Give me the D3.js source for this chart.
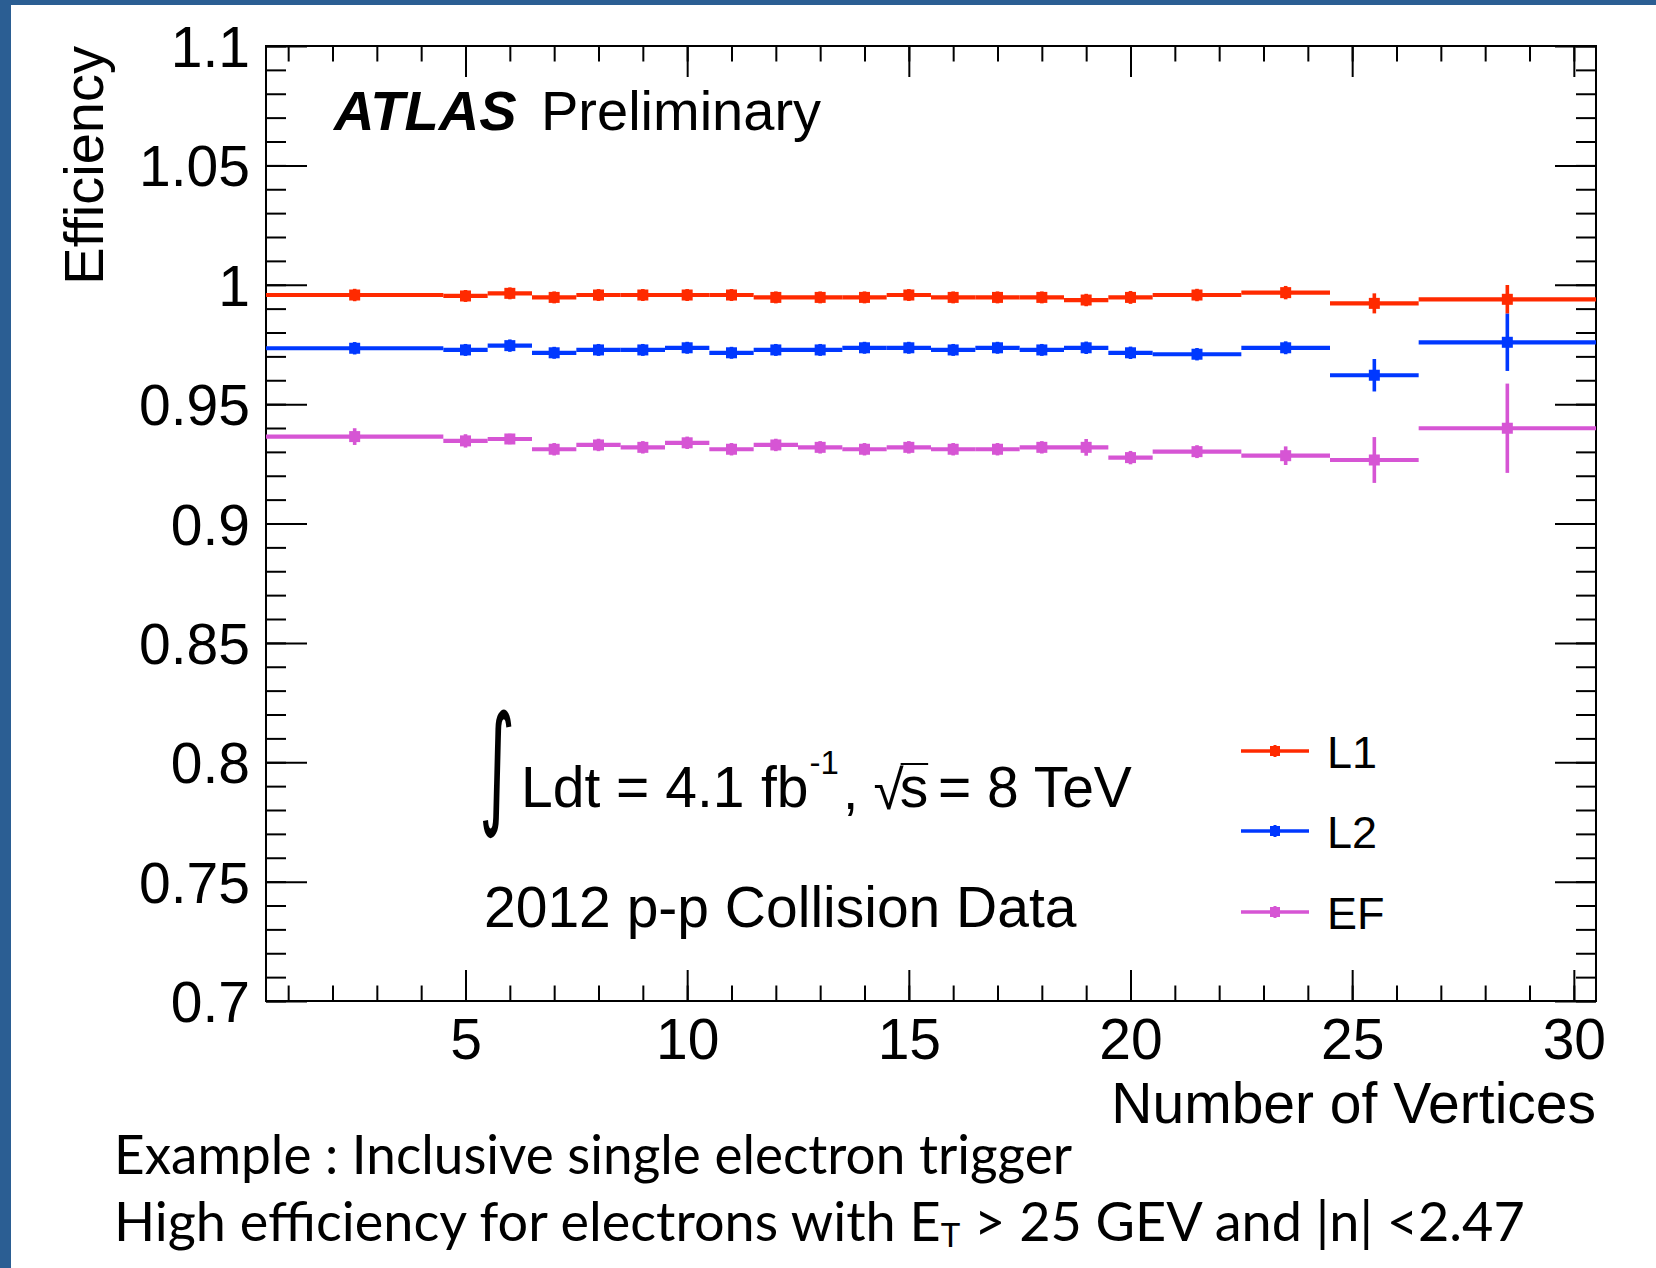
<!DOCTYPE html>
<html>
<head>
<meta charset="utf-8">
<script src="https://cdn.jsdelivr.net/npm/d3@7"></script>
<style>
  html, body { margin: 0; padding: 0; background: #fff; }
  svg { display: block; }
</style>
</head>
<body>
<svg id="chart" width="1656" height="1268"></svg>
<script>
// ---- data: trigger efficiency vs. number of reconstructed vertices ----
// bin edges (the last bins are merged because of low statistics)
const binEdges = [0.5, 4.5, 5.5, 6.5, 7.5, 8.5, 9.5, 10.5, 11.5, 12.5, 13.5, 14.5,
                  15.5, 16.5, 17.5, 18.5, 19.5, 20.5, 22.5, 24.5, 26.5, 30.5];

const l1Eff = [0.9957, 0.9953, 0.9964, 0.9947, 0.9957, 0.9957, 0.9957, 0.9957, 0.9947, 0.9947, 0.9947,
               0.9957, 0.9947, 0.9947, 0.9947, 0.9936, 0.9947, 0.9957, 0.9967, 0.9922, 0.9939];
const l1Err = [0.0026, 0.0025, 0.0025, 0.0025, 0.0025, 0.0025, 0.0025, 0.0025, 0.0025, 0.0025, 0.0025,
               0.0025, 0.0025, 0.0025, 0.0025, 0.0026, 0.0027, 0.0026, 0.0028, 0.0042, 0.0060];

const l2Eff = [0.9734, 0.9727, 0.9745, 0.9715, 0.9727, 0.9727, 0.9736, 0.9715, 0.9727, 0.9727, 0.9736,
               0.9736, 0.9727, 0.9736, 0.9727, 0.9736, 0.9715, 0.9709, 0.9736, 0.9621, 0.9759];
const l2Err = [0.0026, 0.0025, 0.0026, 0.0025, 0.0025, 0.0025, 0.0025, 0.0025, 0.0025, 0.0025, 0.0025,
               0.0025, 0.0025, 0.0025, 0.0025, 0.0026, 0.0026, 0.0026, 0.0027, 0.0068, 0.0120];

const efEff = [0.9364, 0.9346, 0.9354, 0.9311, 0.9329, 0.9319, 0.9338, 0.9311, 0.9329, 0.9319, 0.9311,
               0.9319, 0.9311, 0.9311, 0.9319, 0.9319, 0.9276, 0.9301, 0.9284, 0.9266, 0.9399];
const efErr = [0.0035, 0.0028, 0.0022, 0.0026, 0.0026, 0.0026, 0.0026, 0.0026, 0.0026, 0.0026, 0.0026,
               0.0026, 0.0026, 0.0026, 0.0026, 0.0035, 0.0028, 0.0027, 0.0039, 0.0096, 0.0187];

const seriesNames = ["L1", "L2", "EF"];

const xDomain = [0.5, 30.5];
const yDomain = [0.7, 1.1];
const xTickLabels = ["5", "10", "15", "20", "25", "30"];
const yTickLabels = ["0.7", "0.75", "0.8", "0.85", "0.9", "0.95", "1", "1.05", "1.1"];

// ---- styling ----
const slideBlue = "#2b5e93";
const seriesColors = ["#ff2a00", "#0038ff", "#d655d4"];
const axisFont = "'Liberation Sans', Arial, Helvetica, sans-serif";
const slideFont = "Lato, 'Open Sans', sans-serif";

const frame = { left: 266, right: 1596, top: 46, bottom: 1001 };

const svg = d3.select("#chart");

// slide background with its blue edges
svg.append("rect").attr("width", 1656).attr("height", 1268).attr("fill", "#fff");
svg.append("rect").attr("x", 0).attr("y", 0).attr("width", 11).attr("height", 1268).attr("fill", slideBlue);
svg.append("rect").attr("x", 0).attr("y", 0).attr("width", 1656).attr("height", 5).attr("fill", slideBlue);

const x = d3.scaleLinear().domain(xDomain).range([frame.left, frame.right]);
const y = d3.scaleLinear().domain(yDomain).range([frame.bottom, frame.top]);

const xMajor = xTickLabels.map(Number);
const yMajor = yTickLabels.map(Number);
const xMinor = d3.range(1, 31);
const yMinor = d3.range(70, 111).map(d => d / 100);

function styleAxis(g, labelled) {
  g.select(".domain").remove();
  g.selectAll(".tick line").attr("stroke", "#000").attr("stroke-width", 2);
  g.selectAll(".tick text")
    .attr("fill", "#000")
    .style("font-family", axisFont)
    .style("font-size", "56px");
  if (!labelled) g.selectAll(".tick text").remove();
}

// bottom axis: minor + major (labelled)
svg.append("g").attr("transform", `translate(0,${frame.bottom})`)
  .call(d3.axisBottom(x).tickValues(xMinor).tickSize(-15.5).tickFormat(""))
  .call(g => styleAxis(g, false));
svg.append("g").attr("transform", `translate(0,${frame.bottom})`)
  .call(d3.axisBottom(x).tickValues(xMajor).tickSize(-31).tickPadding(18)
        .tickFormat((d, i) => xTickLabels[i]))
  .call(g => styleAxis(g, true))
  .call(g => g.selectAll(".tick text").style("font-size", "57px"));

// top axis (mirror ticks)
svg.append("g").attr("transform", `translate(0,${frame.top})`)
  .call(d3.axisTop(x).tickValues(xMinor).tickSize(-15.5).tickFormat(""))
  .call(g => styleAxis(g, false));
svg.append("g").attr("transform", `translate(0,${frame.top})`)
  .call(d3.axisTop(x).tickValues(xMajor).tickSize(-31).tickFormat(""))
  .call(g => styleAxis(g, false));

// left axis
svg.append("g").attr("transform", `translate(${frame.left},0)`)
  .call(d3.axisLeft(y).tickValues(yMinor).tickSize(-20).tickFormat(""))
  .call(g => styleAxis(g, false));
svg.append("g").attr("transform", `translate(${frame.left},0)`)
  .call(d3.axisLeft(y).tickValues(yMajor).tickSize(-41).tickPadding(16)
        .tickFormat((d, i) => yTickLabels[i]))
  .call(g => styleAxis(g, true))
  .call(g => g.selectAll(".tick text").attr("dy", "0.36em").style("font-size", "57px"));

// right axis (mirror ticks)
svg.append("g").attr("transform", `translate(${frame.right},0)`)
  .call(d3.axisRight(y).tickValues(yMinor).tickSize(-20).tickFormat(""))
  .call(g => styleAxis(g, false));
svg.append("g").attr("transform", `translate(${frame.right},0)`)
  .call(d3.axisRight(y).tickValues(yMajor).tickSize(-41).tickFormat(""))
  .call(g => styleAxis(g, false));

// frame
svg.append("rect")
  .attr("x", frame.left).attr("y", frame.top)
  .attr("width", frame.right - frame.left).attr("height", frame.bottom - frame.top)
  .attr("fill", "none").attr("stroke", "#000").attr("stroke-width", 2);

// axis titles
svg.append("text")
  .attr("transform", `translate(103,${frame.top}) rotate(-90)`)
  .attr("text-anchor", "end")
  .style("font-family", axisFont).style("font-size", "56px")
  .text("Efficiency");

svg.append("text")
  .attr("x", frame.right).attr("y", 1123)
  .attr("text-anchor", "end")
  .style("font-family", axisFont).style("font-size", "57px")
  .text("Number of Vertices");

// ---- data series: x error = bin width, y error bars, square markers ----
const series = [
  { name: seriesNames[0], eff: l1Eff, err: l1Err, color: seriesColors[0] },
  { name: seriesNames[1], eff: l2Eff, err: l2Err, color: seriesColors[1] },
  { name: seriesNames[2], eff: efEff, err: efErr, color: seriesColors[2] }
];

const markerSize = 11;

series.forEach(s => {
  const bins = s.eff.map((v, i) => ({
    lo: binEdges[i], hi: binEdges[i + 1], mid: (binEdges[i] + binEdges[i + 1]) / 2, v, e: s.err[i]
  }));
  const g = svg.append("g").attr("class", "series");
  g.selectAll("line.xerr").data(bins).join("line").attr("class", "xerr")
    .attr("x1", d => x(d.lo)).attr("x2", d => x(d.hi))
    .attr("y1", d => y(d.v)).attr("y2", d => y(d.v))
    .attr("stroke", s.color).attr("stroke-width", 4.2);
  g.selectAll("line.yerr").data(bins).join("line").attr("class", "yerr")
    .attr("x1", d => x(d.mid)).attr("x2", d => x(d.mid))
    .attr("y1", d => y(d.v - d.e)).attr("y2", d => y(d.v + d.e))
    .attr("stroke", s.color).attr("stroke-width", 3.6);
  g.selectAll("rect.marker").data(bins).join("rect").attr("class", "marker")
    .attr("x", d => x(d.mid) - markerSize / 2).attr("y", d => y(d.v) - markerSize / 2)
    .attr("width", markerSize).attr("height", markerSize)
    .attr("fill", s.color);
});

// ---- legend ----
const legendRows = [751, 831, 912];
const legend = svg.append("g");
series.forEach((s, i) => {
  const ly = legendRows[i];
  legend.append("line").attr("x1", 1241).attr("x2", 1309).attr("y1", ly).attr("y2", ly)
    .attr("stroke", s.color).attr("stroke-width", 3.6);
  legend.append("line").attr("x1", 1275).attr("x2", 1275).attr("y1", ly - 6).attr("y2", ly + 6)
    .attr("stroke", s.color).attr("stroke-width", 3);
  legend.append("rect").attr("x", 1275 - 5).attr("y", ly - 5).attr("width", 10).attr("height", 10)
    .attr("fill", s.color);
  legend.append("text").attr("x", 1327).attr("y", ly + 17)
    .style("font-family", axisFont).style("font-size", "45px")
    .text(s.name);
});

// ---- experiment label ----
const atlasLabel = svg.append("text").attr("y", 130)
  .style("font-family", axisFont).style("font-size", "56px");
atlasLabel.append("tspan").attr("x", 334)
  .style("font-weight", "bold").style("font-style", "italic").text("ATLAS");
atlasLabel.append("tspan").attr("x", 541).text("Preliminary");

// ---- luminosity / energy annotation ----
const ann = svg.append("g").style("font-family", axisFont);
ann.append("text")
  .attr("transform", "translate(479,810) scale(0.85,1.62)")
  .style("font-family", "'DejaVu Sans', sans-serif").style("font-size", "82px")
  .text("\u222B");

// one text flow: the superscript, comma and radical follow the preceding glyphs
const lumi = ann.append("text").attr("y", 807).style("font-size", "57px");
lumi.append("tspan").attr("x", 521).text("Ldt = 4.1 ");
lumi.append("tspan").attr("x", 761).text("fb");
lumi.append("tspan").attr("dx", 1).attr("dy", -33).style("font-size", "33px").text("-1");
lumi.append("tspan").attr("dx", 4).attr("dy", 35).style("font-size", "55px").text(", \u221A");
lumi.append("tspan").attr("dx", -4).attr("dy", -2).text("s");
lumi.append("tspan").attr("x", 938).text("= 8 TeV");

ann.append("text").attr("x", 484).attr("y", 927).style("font-size", "57px").text("2012 p-p Collision Data");

// overline of the square root, placed from the rendered glyphs
{
  const node = lumi.node();
  const full = node.textContent;
  const iRad = full.indexOf("\u221A");
  const rad = node.getExtentOfChar(iRad);
  const arg = node.getExtentOfChar(iRad + 1);
  ann.append("line")
    .attr("x1", rad.x + rad.width - 3).attr("x2", arg.x + arg.width)
    .attr("y1", 764).attr("y2", 764)
    .attr("stroke", "#000").attr("stroke-width", 2);
}

// ---- slide text ----
const line1 = svg.append("text").attr("x", 114).attr("y", 1174)
  .style("font-family", slideFont).style("font-size", "54px")
  .text("Example : Inclusive single electron trigger");
const line2 = svg.append("text").attr("x", 114).attr("y", 1241)
  .style("font-family", slideFont).style("font-size", "54px");
line2.append("tspan").text("High efficiency for electrons with E");
line2.append("tspan").style("font-size", "33px").attr("dy", 6).text("T");
line2.append("tspan").attr("dy", -6).text(" > 25 GEV and |n| <2.47");

// match the narrow slide typeface width
function fitWidth(sel, w) {
  const n = sel.node();
  if (Math.abs(n.getComputedTextLength() - w) > 4) {
    sel.attr("textLength", w).attr("lengthAdjust", "spacingAndGlyphs");
  }
}
fitWidth(line1, 958);
fitWidth(line2, 1414);
</script>
</body>
</html>
